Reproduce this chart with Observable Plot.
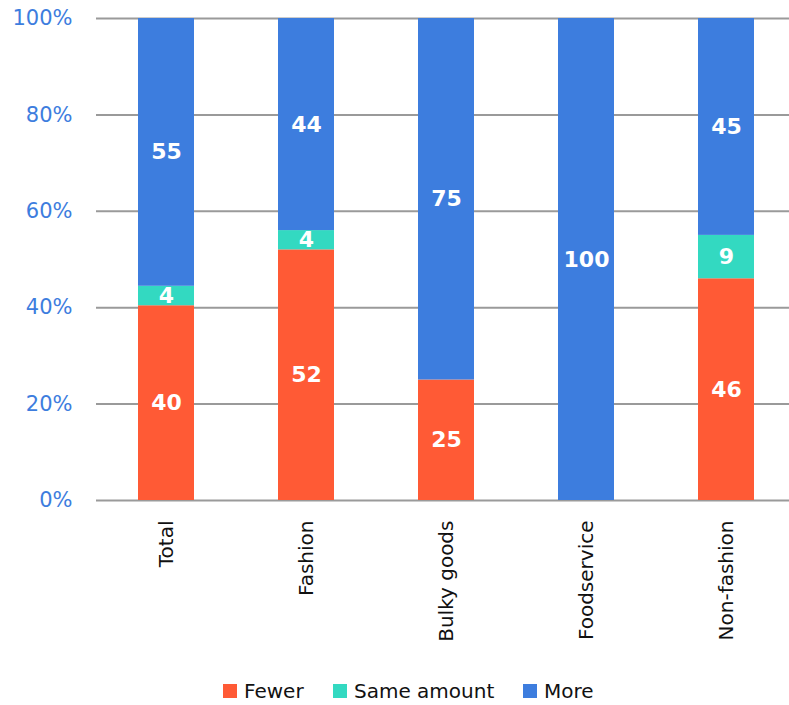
<!DOCTYPE html>
<html>
<head>
<meta charset="utf-8">
<script src="https://cdn.jsdelivr.net/npm/d3@7"></script>
<script src="https://cdn.jsdelivr.net/npm/@observablehq/plot@0.6"></script>
<style>
  html, body { margin: 0; padding: 0; background: #fff; }
  body { width: 789px; height: 705px; overflow: hidden; font-family: "DejaVu Sans", sans-serif; }
  #chart svg { display: block; overflow: visible; }
  .legend { position: relative; height: 40px; font-size: 20px; color: #111; }
  .legend span { position: absolute; top: 14px; display: inline-flex; align-items: center; line-height: 24px; }
  .legend i { display: inline-block; width: 14px; height: 14px; margin-right: 7px; }
</style>
</head>
<body>
<div id="chart"></div>
<div class="legend" id="legend"></div>
<script>
// Survey responses per retail segment (counts, each bar normalised to 100%)
const categories = ["Total", "Fashion", "Bulky goods", "Foodservice", "Non-fashion"];
const responses = ["Fewer", "Same amount", "More"];
const fewer = [40, 52, 25, 0, 46];
const same = [4, 4, 0, 0, 9];
const more = [55, 44, 75, 100, 45];
const colors = ["#ff5a35", "#33d9c1", "#3d7dde"];
const yTicks = [0, 0.2, 0.4, 0.6, 0.8, 1];

const series = [fewer, same, more];
const data = categories.flatMap((c, i) =>
  responses.map((r, j) => ({category: c, response: r, value: series[j][i]}))
);

const stackOpts = {
  x: "category",
  y: "value",
  z: "response",
  offset: "normalize",
  order: responses
};

const chart = Plot.plot({
  width: 789,
  height: 665,
  marginLeft: 96,
  marginRight: 0,
  marginTop: 18,
  marginBottom: 165,
  style: {fontFamily: "'DejaVu Sans', sans-serif", background: "#fff"},
  x: {domain: categories, range: [96, 796], paddingInner: 0.6, paddingOuter: 0.3, label: null},
  y: {domain: [0, 1], label: null},
  color: {domain: responses, range: colors},
  marks: [
    Plot.ruleY(yTicks, {stroke: "#9a9a9a", strokeWidth: 2}),
    Plot.axisY({
      ticks: yTicks,
      tickFormat: d => Math.round(d * 100) + "%",
      tickSize: 0,
      tickPadding: 24,
      fontSize: 21,
      fill: "#3d7dde",
      label: null
    }),
    Plot.axisX({
      tickSize: 0,
      tickPadding: 20,
      tickRotate: -90,
      fontSize: 20,
      fill: "#111",
      label: null
    }),
    Plot.barY(data, Plot.stackY({...stackOpts, fill: "response"})),
    Plot.text(data, Plot.stackY({
      ...stackOpts,
      filter: d => d.value > 0,
      text: d => String(d.value),
      fill: "#fff",
      fontSize: 22,
      fontWeight: "bold"
    }))
  ]
});
document.getElementById("chart").append(chart);

const legend = document.getElementById("legend");
const legendX = [223, 333, 523];
responses.forEach((r, j) => {
  const s = document.createElement("span");
  s.style.left = legendX[j] + "px";
  const sw = document.createElement("i");
  sw.style.background = colors[j];
  s.append(sw, document.createTextNode(r));
  legend.append(s);
});
</script>
</body>
</html>
